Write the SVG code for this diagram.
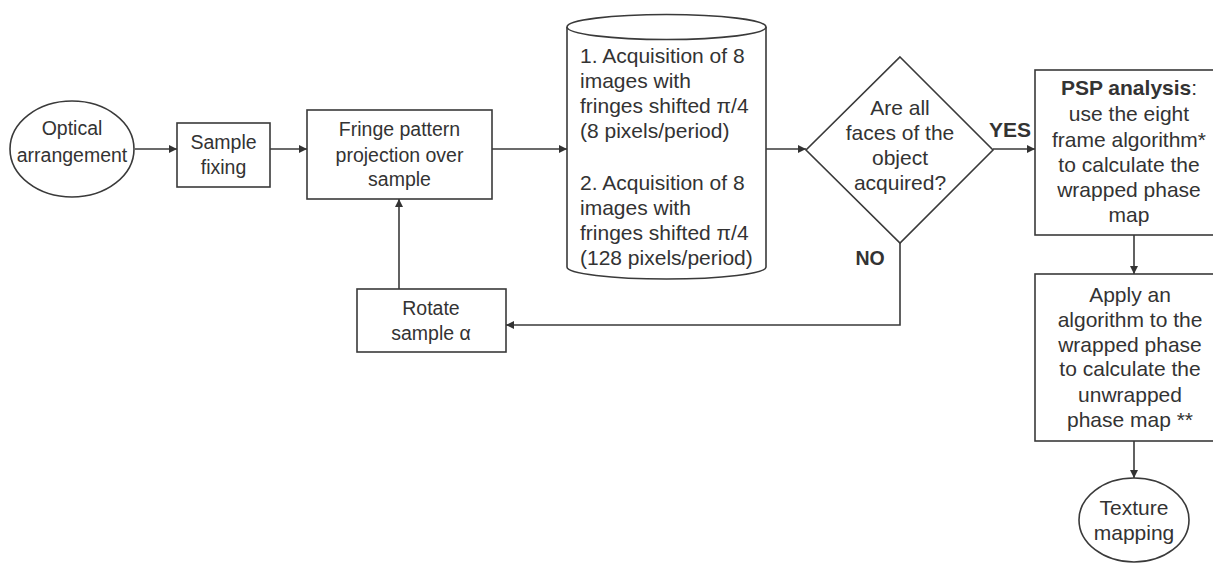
<svg xmlns="http://www.w3.org/2000/svg" width="1213" height="564" viewBox="0 0 1213 564">
<defs>
<marker id="arr" viewBox="0 0 10 10" refX="10" refY="5" markerWidth="9" markerHeight="8" markerUnits="userSpaceOnUse" orient="auto">
<path d="M0,0 L10,5 L0,10 Z" fill="#333"/>
</marker>
<style>
.shape{fill:#fff;stroke:#3a3a3a;stroke-width:1.6}
.conn{fill:none;stroke:#3a3a3a;stroke-width:1.6;marker-end:url(#arr)}
text{font-family:"Liberation Sans",Arial,sans-serif;font-size:19.5px;fill:#333}
.L{font-size:21px}
.c{text-anchor:middle}
.b{font-weight:bold}
</style>
</defs>
<rect width="1213" height="564" fill="#fff"/>
<g id="connectors">
<line class="conn" x1="135" y1="149" x2="177" y2="149"/>
<line class="conn" x1="270" y1="149" x2="307" y2="149"/>
<line class="conn" x1="492" y1="149" x2="567" y2="149"/>
<line class="conn" x1="766" y1="149" x2="806" y2="149"/>
<line class="conn" x1="993" y1="149" x2="1035" y2="149"/>
<line class="conn" x1="1134" y1="235" x2="1134" y2="274"/>
<line class="conn" x1="1134" y1="441" x2="1134" y2="478"/>
<polyline class="conn" points="900,243 900,325 506,325"/>
<line class="conn" x1="399" y1="289" x2="399" y2="199"/>
<text class="c b L" x="1010" y="137">YES</text>
<text class="c b" x="870" y="265">NO</text>
</g>
<g id="optical">
<ellipse class="shape" cx="72" cy="149" rx="62" ry="48"/>
<text class="c" x="72" y="135">Optical</text>
<text class="c" x="72" y="162">arrangement</text>
</g>
<g id="sample-fixing">
<rect class="shape" x="177" y="123" width="93" height="64"/>
<text class="c" x="223.5" y="149">Sample</text>
<text class="c" x="223.5" y="174">fixing</text>
</g>
<g id="fringe">
<rect class="shape" x="307" y="110" width="185" height="89"/>
<text class="c" x="399.5" y="136">Fringe pattern</text>
<text class="c" x="399.5" y="162">projection over</text>
<text class="c" x="399.5" y="186">sample</text>
</g>
<g id="rotate">
<rect class="shape" x="357" y="289" width="149" height="63"/>
<text class="c" x="431" y="315">Rotate</text>
<text class="c" x="431" y="340">sample α</text>
</g>
<g id="acquisition">
<path class="shape" d="M567,27 L567,267 A99.5,12 0 0 0 766,267 L766,27"/>
<ellipse class="shape" cx="666.5" cy="27" rx="99.5" ry="12.5"/>
<text class="L" x="580" y="63">1. Acquisition of 8</text>
<text class="L" x="580" y="88">images with</text>
<text class="L" x="580" y="113">fringes shifted π/4</text>
<text class="L" x="580" y="138">(8 pixels/period)</text>
<text class="L" x="580" y="190">2. Acquisition of 8</text>
<text class="L" x="580" y="215">images with</text>
<text class="L" x="580" y="240">fringes shifted π/4</text>
<text class="L" x="580" y="265">(128 pixels/period)</text>
</g>
<g id="decision">
<polygon class="shape" points="900,57 993,150 900,243 806,150"/>
<text class="c L" x="900" y="115">Are all</text>
<text class="c L" x="900" y="140">faces of the</text>
<text class="c L" x="900" y="165">object</text>
<text class="c L" x="900" y="190">acquired?</text>
</g>
<g id="psp">
<rect class="shape" x="1035" y="70" width="190" height="165"/>
<text class="c L" x="1129" y="95"><tspan class="b">PSP analysis</tspan>:</text>
<text class="c L" x="1129" y="121">use the eight</text>
<text class="c L" x="1129" y="147">frame algorithm*</text>
<text class="c L" x="1129" y="172">to calculate the</text>
<text class="c L" x="1129" y="197">wrapped phase</text>
<text class="c L" x="1129" y="222">map</text>
</g>
<g id="unwrap">
<rect class="shape" x="1035" y="274" width="190" height="167"/>
<text class="c L" x="1130" y="302">Apply an</text>
<text class="c L" x="1130" y="327">algorithm to the</text>
<text class="c L" x="1130" y="352">wrapped phase</text>
<text class="c L" x="1130" y="376">to calculate the</text>
<text class="c L" x="1130" y="402">unwrapped</text>
<text class="c L" x="1130" y="427">phase map **</text>
</g>
<g id="texture">
<ellipse class="shape" cx="1134" cy="520" rx="55" ry="42"/>
<text class="c L" x="1134" y="515">Texture</text>
<text class="c L" x="1134" y="540">mapping</text>
</g>
</svg>
